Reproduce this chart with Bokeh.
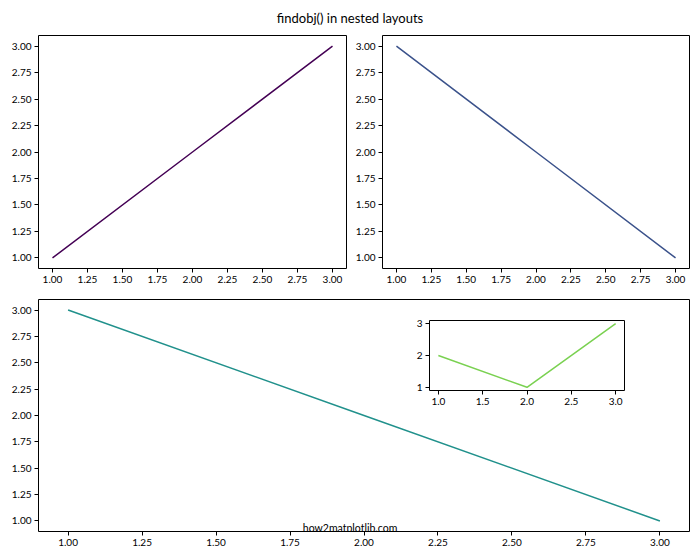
from bokeh.plotting import figure
from bokeh.models import Range1d, FixedTicker, NumeralTickFormatter, Label, Div, GridBox
from bokeh.embed import file_html
from bokeh.resources import INLINE

# ---- data ----
x_vals = [1, 2, 3]
y_top_left = [1, 2, 3]
y_top_right = [3, 2, 1]
y_bottom = [3, 2, 1]
y_inset = [2, 1, 3]

main_ticks = [1.00, 1.25, 1.50, 1.75, 2.00, 2.25, 2.50, 2.75, 3.00]
inset_x_ticks = [1.0, 1.5, 2.0, 2.5, 3.0]
inset_y_ticks = [1, 2, 3]

title_text = "findobj() in nested layouts"
watermark = "how2matplotlib.com"

c_top_left = "#440154"
c_top_right = "#3b528b"
c_bottom = "#21918c"
c_inset = "#7ad151"

FONT = "Lato"


def make_fig(w, h, left, right, top, bottom, xticks, yticks, xfmt, yfmt, **kw):
    p = figure(width=w, height=h, x_range=Range1d(0.9, 3.1), y_range=Range1d(0.9, 3.1),
               toolbar_location=None, output_backend="svg",
               min_border_left=left, min_border_right=right,
               min_border_top=top, min_border_bottom=bottom, **kw)
    p.grid.visible = False
    p.outline_line_color = "black"
    p.outline_line_alpha = 1
    p.outline_line_width = 1
    p.background_fill_color = "white"
    p.border_fill_color = "white"
    p.xaxis.ticker = FixedTicker(ticks=xticks)
    p.yaxis.ticker = FixedTicker(ticks=yticks)
    p.xaxis.formatter = NumeralTickFormatter(format=xfmt)
    p.yaxis.formatter = NumeralTickFormatter(format=yfmt)
    p.axis.axis_line_color = None
    p.axis.major_tick_out = 4
    p.axis.major_tick_in = 0
    p.axis.major_tick_line_color = "black"
    p.axis.minor_tick_line_color = None
    p.axis.major_label_text_font_size = "10px"
    p.axis.major_label_text_font = FONT
    p.axis.major_label_text_color = "black"
    p.axis.major_label_standoff = 3
    return p


title = Div(text=f'<div style="width:700px;text-align:center;font-family:{FONT};'
                 f'font-size:13px;color:black;padding-top:9px">{title_text}</div>',
            width=700, height=28, margin=0)

p1 = make_fig(350, 262, 38, 4, 7, 22, main_ticks, main_ticks, "0.00", "0.00", margin=0)
p1.line(x_vals, y_top_left, line_color=c_top_left, line_width=1.5)

p2 = make_fig(350, 262, 32, 10, 7, 22, main_ticks, main_ticks, "0.00", "0.00", margin=0)
p2.line(x_vals, y_top_right, line_color=c_top_right, line_width=1.5)

p3 = make_fig(700, 270, 38, 10, 3, 29, main_ticks, main_ticks, "0.00", "0.00", margin=0)
p3.line(x_vals, y_bottom, line_color=c_bottom, line_width=1.5)
p3.add_layout(Label(x=1.953, y=0.929, text=watermark, text_align="center",
                    text_baseline="middle", text_font=FONT, text_font_size="10.5px",
                    text_color="black"))

inset = make_fig(244, 108, 38, 11, 9, 28, inset_x_ticks, inset_y_ticks, "0.0", "0",
                 margin=(21, 0, 0, 391), align="start")
inset.border_fill_alpha = 0
inset.line(x_vals, y_inset, line_color=c_inset, line_width=1.5)

grid = GridBox(children=[(title, 0, 0, 1, 2), (p1, 1, 0), (p2, 1, 1),
                         (p3, 2, 0, 1, 2), (inset, 2, 0, 1, 2)], spacing=0)

open("out.html", "w").write(file_html(grid, INLINE))
